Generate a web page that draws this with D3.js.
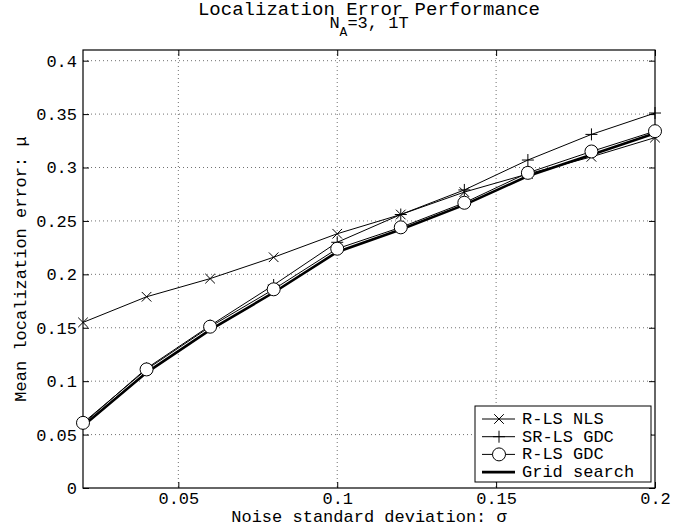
<!DOCTYPE html>
<html><head><meta charset="utf-8">
<script src="https://cdn.jsdelivr.net/npm/d3@7"></script>
<style>body{margin:0;background:#fff}svg{display:block}text{font-family:"Liberation Mono","Courier New",monospace;fill:#000}</style>
</head><body><svg id="c" width="696" height="529"></svg>
<script>
const sigma = [0.02,0.04,0.06,0.08,0.10,0.12,0.14,0.16,0.18,0.20];
const rlsNLS = [0.155,0.179,0.196,0.216,0.238,0.256,0.277,0.294,0.310,0.328];
const srlsGDC = [0.060,0.112,0.152,0.190,0.230,0.256,0.279,0.307,0.331,0.351];
const rlsGDC = [0.061,0.111,0.151,0.186,0.224,0.244,0.267,0.295,0.315,0.334];
const gridSearch = [0.058,0.108,0.148,0.183,0.221,0.242,0.265,0.292,0.312,0.332];
const xTicks = [0.05,0.1,0.15,0.2];
const yTicks = [0,0.05,0.1,0.15,0.2,0.25,0.3,0.35,0.4];
const seriesNames = ["R-LS NLS","SR-LS GDC","R-LS GDC","Grid search"];

const FONT = "Liberation Mono, Courier New, monospace";
const svg = d3.select("#c");
const L=83,R=655,T=50,B=488;
const x = d3.scaleLinear().domain([0.02,0.2]).range([L,R]);
const y = d3.scaleLinear().domain([0,0.41]).range([B,T]);
const FS=17;

// grid
const g = svg.append("g");
g.selectAll(".gx").data(xTicks.filter(v=>v<0.2)).join("line")
 .attr("x1",d=>x(d)).attr("x2",d=>x(d)).attr("y1",T).attr("y2",B)
 .attr("stroke","#333").attr("stroke-width",0.7).attr("stroke-dasharray","1,3");
g.selectAll(".gy").data(yTicks.filter(v=>v>0)).join("line")
 .attr("y1",d=>y(d)).attr("y2",d=>y(d)).attr("x1",L).attr("x2",R)
 .attr("stroke","#333").attr("stroke-width",0.7).attr("stroke-dasharray","1,3");

// axes
const ax = d3.axisBottom(x).tickValues(xTicks).tickFormat(d=>String(d)).tickSize(-6).tickPadding(4);
const axT = d3.axisTop(x).tickValues(xTicks).tickFormat("").tickSize(-6);
const ay = d3.axisLeft(y).tickValues(yTicks).tickFormat(d=>String(d)).tickSize(-6).tickPadding(6);
const ayR = d3.axisRight(y).tickValues(yTicks).tickFormat("").tickSize(-6);
function style(sel){sel.attr("font-family",FONT);sel.select(".domain").remove();sel.selectAll("line").attr("stroke","#000");sel.selectAll("text").attr("font-family",FONT).style("font-size",FS+"px").attr("fill","#000");}
svg.append("g").attr("transform",`translate(0,${B})`).call(ax).call(style);
svg.append("g").attr("transform",`translate(0,${T})`).call(axT).call(style);
svg.append("g").attr("transform",`translate(${L},0)`).call(ay).call(style);
svg.append("g").attr("transform",`translate(${R},0)`).call(ayR).call(style);
svg.append("rect").attr("x",L).attr("y",T).attr("width",R-L).attr("height",B-T).attr("fill","none").attr("stroke","#000").attr("stroke-width",1.2);

// lines
const line = d3.line().x((d,i)=>x(sigma[i])).y(d=>y(d));
const series=[rlsNLS,srlsGDC,rlsGDC,gridSearch];
const widths=[1,1,1,2.6];
series.forEach((s,k)=>{
  svg.append("path").datum(s).attr("d",line).attr("fill","none").attr("stroke","#000").attr("stroke-width",widths[k]);
});
function xMark(sel,cx,cy,r){sel.append("path").attr("d",`M${cx-r},${cy-r}L${cx+r},${cy+r}M${cx-r},${cy+r}L${cx+r},${cy-r}`).attr("stroke","#000").attr("stroke-width",1).attr("fill","none");}
function pMark(sel,cx,cy,r){sel.append("path").attr("d",`M${cx-r},${cy}L${cx+r},${cy}M${cx},${cy-r}L${cx},${cy+r}`).attr("stroke","#000").attr("stroke-width",1).attr("fill","none");}
function oMark(sel,cx,cy,r){sel.append("circle").attr("cx",cx).attr("cy",cy).attr("r",r).attr("stroke","#000").attr("stroke-width",1).attr("fill","#fff");}
const mk=svg.append("g");
rlsNLS.forEach((v,i)=>xMark(mk,x(sigma[i]),y(v),4.8));
srlsGDC.forEach((v,i)=>pMark(mk,x(sigma[i]),y(v),6));
rlsGDC.forEach((v,i)=>oMark(mk,x(sigma[i]),y(v),6.5));

// labels
svg.append("text").attr("x",(L+R)/2).attr("y",522).attr("text-anchor","middle").attr("font-family",FONT).style("font-size",FS+"px").text("Noise standard deviation: σ");
svg.append("text").attr("transform",`translate(26,${(T+B)/2}) rotate(-90)`).attr("text-anchor","middle").attr("font-family",FONT).style("font-size",FS+"px").text("Mean localization error: μ");
svg.append("text").attr("x",(L+R)/2).attr("y",15).attr("text-anchor","middle").attr("font-family",FONT).style("font-size","19px").text("Localization Error Performance");
const t2=svg.append("text").attr("x",(L+R)/2).attr("y",28).attr("text-anchor","middle").attr("font-family",FONT).style("font-size","17px");
t2.append("tspan").text("N");
t2.append("tspan").attr("dy",8).style("font-size","13px").text("A");
t2.append("tspan").attr("dy",-8).text("=3, 1T");

// legend
const lg=svg.append("g");
const lx=475,ly=406,lw=176,lh=76;
lg.append("rect").attr("x",lx).attr("y",ly).attr("width",lw).attr("height",lh).attr("fill","#fff").attr("stroke","#000").attr("stroke-width",1);
seriesNames.forEach((n,k)=>{
  const yy=ly+13+k*17.7;
  lg.append("line").attr("x1",lx+7).attr("x2",lx+40).attr("y1",yy).attr("y2",yy).attr("stroke","#000").attr("stroke-width",widths[k]);
  if(k===0) xMark(lg,lx+24,yy,4.8);
  if(k===1) pMark(lg,lx+24,yy,6);
  if(k===2) oMark(lg,lx+24,yy,6.5);
  lg.append("text").attr("x",lx+47).attr("y",yy+5).attr("font-family",FONT).style("font-size",FS+"px").text(n);
});
</script></body></html>
